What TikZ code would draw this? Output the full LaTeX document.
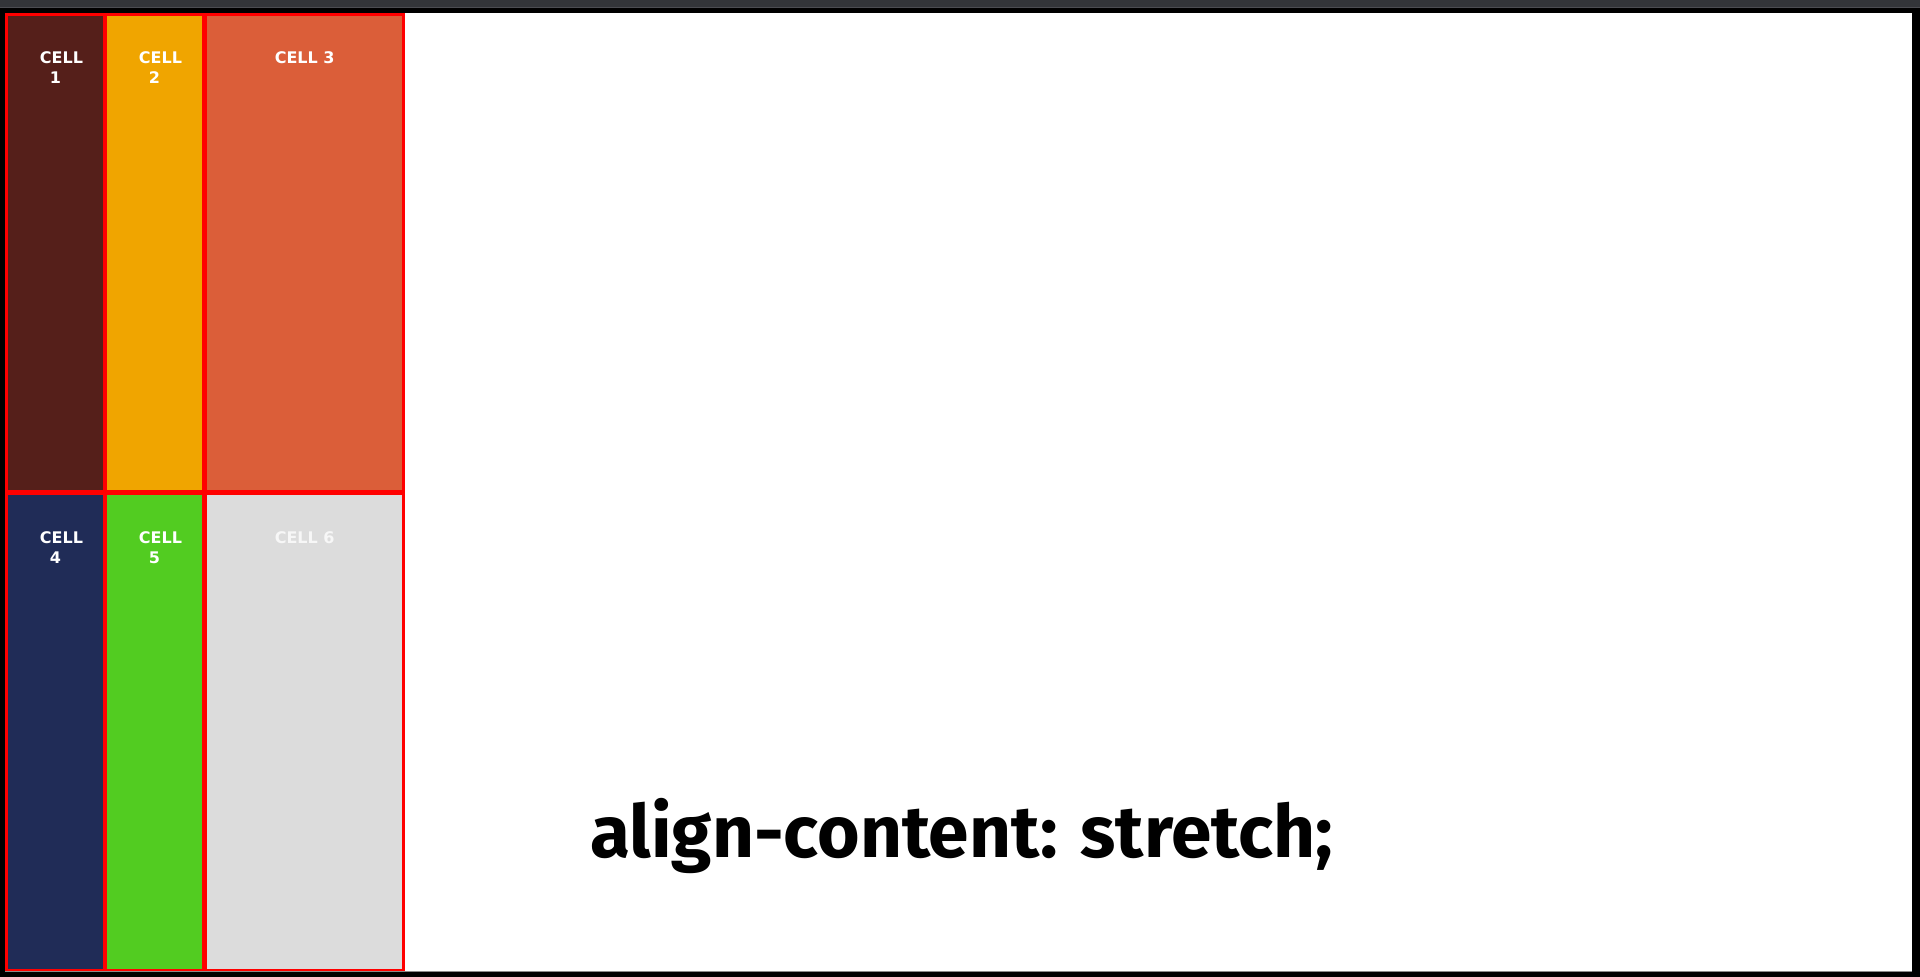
\documentclass[tikz,border=0pt]{standalone}
\usepackage{fontspec}
\usepackage{xcolor}
\usepackage{tikz}
\usetikzlibrary{positioning}

\newfontfamily\cellfont{DejaVu Sans}
\newfontfamily\titlefont{Fira Sans}

\definecolor{barGray}{HTML}{333539}
\definecolor{barLine}{HTML}{4C4D52}
\definecolor{edgeGray}{HTML}{8A8A8A}
\definecolor{cellBrown}{HTML}{551F1A}
\definecolor{cellAmber}{HTML}{F0A500}
\definecolor{cellCoral}{HTML}{DB5E39}
\definecolor{cellNavy}{HTML}{202C57}
\definecolor{cellGreen}{HTML}{52CC21}
\definecolor{cellSilver}{HTML}{DCDCDC}

\begin{document}
\begin{tikzpicture}[
    x=1pt, y=-1pt,
    cell/.style={rectangle, inner sep=0pt, anchor=north west, minimum height=474pt},
    narrow/.style={cell, minimum width=94.5pt},
    wide/.style={cell, minimum width=195pt},
    lbl/.style={inner sep=0pt, anchor=north, align=center, text=white,
      font=\cellfont\bfseries\fontsize{16}{19.5}\selectfont}
  ]
    % fond de la fenetre
    \fill[black] (0,0) rectangle (1920,977);
    \fill[barGray] (0,0) rectangle (1920,7);
    \fill[barLine] (0,7) rectangle (1920,8);
    \fill[white] (5,13) rectangle (1912,971);
    \draw[edgeGray, line width=1pt] (5,971.5) -- (1912,971.5);

    % grille : bordure rouge puis les cellules
    \fill[red] (5,13) rectangle (405,971);
    \node[narrow, fill=cellBrown] (c1) at (8,16) {};
    \node[narrow, fill=cellAmber] (c2) at (107,16) {};
    \node[wide, fill=cellCoral] (c3) at (207,16) {};
    \node[narrow, fill=cellNavy] (c4) at (8,495) {};
    \node[narrow, fill=cellGreen] (c5) at (107,495) {};
    \node[wide, fill=cellSilver] (c6) at (207,495) {};

    % etiquettes
    \node[lbl] (t1) at ([yshift=-35.5pt]c1.north) {\hspace*{12pt}CELL\\1};
    \node[lbl] (t2) at ([yshift=-35.5pt]c2.north) {\hspace*{12pt}CELL\\2};
    \node[lbl] (t3) at ([yshift=-35.5pt]c3.north) {CELL 3};
    \node[lbl] (t4) at ([yshift=-36.5pt]c4.north) {\hspace*{12pt}CELL\\4};
    \node[lbl] (t5) at ([yshift=-36.5pt]c5.north) {\hspace*{12pt}CELL\\5};
    \node[lbl, text=white!97!black] (t6) at ([yshift=-36.5pt]c6.north) {CELL 6};

    % titre
    \node[inner sep=0pt, anchor=base west, font=\titlefont\bfseries\fontsize{73}{80}\selectfont]
      (title) at (590,857) {align-content: stretch;};
\end{tikzpicture}
\end{document}
